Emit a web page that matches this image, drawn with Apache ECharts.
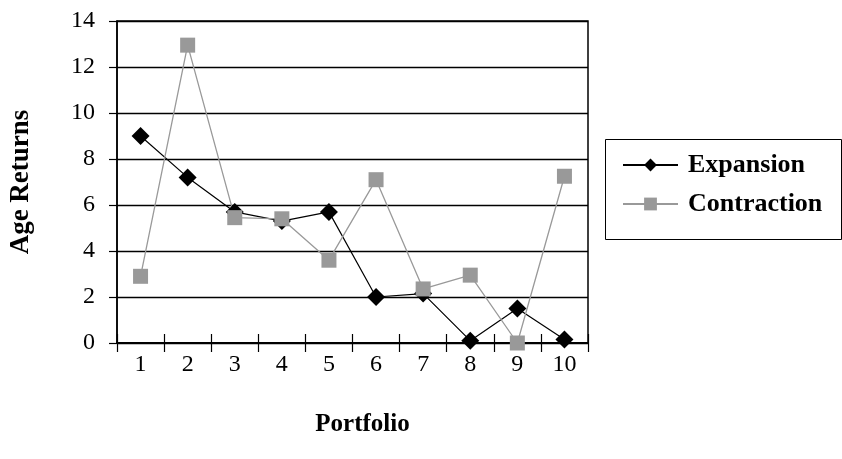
<!DOCTYPE html>
<html>
<head>
<meta charset="utf-8">
<script src="https://cdn.jsdelivr.net/npm/echarts@6/dist/echarts.min.js"></script>
<style>
html,body{margin:0;padding:0;background:#fff;}
#chart{width:842px;height:459px;}
</style>
</head>
<body>
<div id="chart"></div>
<script>
const categories = ['1','2','3','4','5','6','7','8','9','10'];
const expansion = [9.0, 7.2, 5.7, 5.3, 5.7, 2.0, 2.15, 0.1, 1.5, 0.15];
const contraction = [2.9, 12.95, 5.45, 5.4, 3.6, 7.1, 2.35, 2.95, 0.0, 7.25];
const seriesNames = ['Expansion', 'Contraction'];
const yTicks = { min: 0, max: 14, interval: 2 };

const FONT = '"Liberation Serif", "Times New Roman", serif';
const chart = echarts.init(document.getElementById('chart'), null, { renderer: 'canvas' });

chart.setOption({
  backgroundColor: '#fff',
  animation: false,
  grid: {
    left: 116, right: 254, top: 21, bottom: 116,
    show: true, borderColor: '#000', borderWidth: 1.5, backgroundColor: 'transparent'
  },
  legend: {
    orient: 'vertical',
    left: 622, top: 151,
    padding: 0,
    itemWidth: 55, itemHeight: 16, itemGap: 11,
    data: seriesNames,
    textStyle: { fontFamily: FONT, fontSize: 26, fontWeight: 'bold', color: '#000', lineHeight: 28, padding: [0,0,0,5] }
  },
  graphic: [{
    type: 'rect', left: 603, top: 137,
    shape: { width: 236, height: 100 },
    style: { fill: 'none', stroke: '#000', lineWidth: 1 }
  }],
  xAxis: [{
    type: 'category', data: categories, boundaryGap: true,
    name: 'Portfolio', nameLocation: 'middle', nameGap: 69,
    nameTextStyle: { fontFamily: FONT, fontSize: 25, fontWeight: 'bold', color: '#000', padding: [0,0,0,20] },
    axisLine: { lineStyle: { color: '#000', width: 2 } },
    axisTick: { show: true, interval: 0, length: 9, inside: false, lineStyle: { color: '#000', width: 1.2 } },
    axisLabel: { fontFamily: FONT, fontSize: 24, color: '#000', margin: 10, interval: 0 },
    splitLine: { show: false }
  }, {
    type: 'category', data: categories, boundaryGap: true, position: 'bottom',
    axisLine: { show: false },
    axisTick: { show: true, interval: 0, length: 9, inside: true, lineStyle: { color: '#000', width: 1.2 } },
    axisLabel: { show: false },
    splitLine: { show: false }
  }],
  yAxis: {
    type: 'value', min: yTicks.min, max: yTicks.max, interval: yTicks.interval,
    name: 'Age Returns', nameLocation: 'middle', nameGap: 82, nameRotate: 90,
    nameTextStyle: { fontFamily: FONT, fontSize: 27, fontWeight: 'bold', color: '#000' },
    axisLine: { show: true, lineStyle: { color: '#000', width: 1.5 } },
    axisTick: { show: true, length: 8, lineStyle: { color: '#000', width: 1.2 } },
    axisLabel: { fontFamily: FONT, fontSize: 24, color: '#000', margin: 22 },
    splitLine: { show: true, lineStyle: { color: '#000', width: 1.4 } }
  },
  series: [{
    name: seriesNames[0], type: 'line', data: expansion,
    symbol: 'diamond', symbolSize: 18,
    itemStyle: { color: '#000' },
    lineStyle: { color: '#000', width: 1.2 }
  }, {
    name: seriesNames[1], type: 'line', data: contraction,
    symbol: 'rect', symbolSize: 15,
    itemStyle: { color: '#999' },
    lineStyle: { color: '#999', width: 1.3 }
  }]
});
</script>
</body>
</html>
